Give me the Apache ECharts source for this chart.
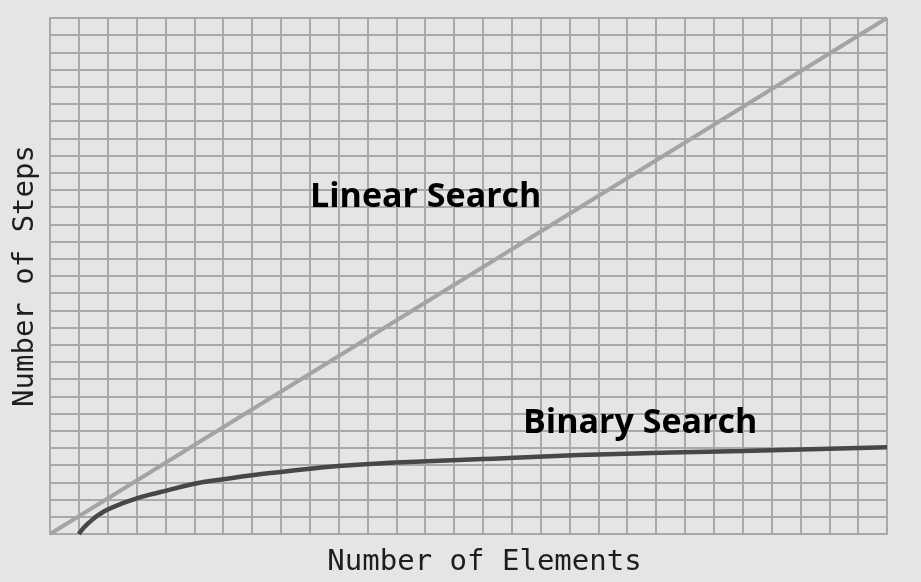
<!DOCTYPE html>
<html>
<head>
<meta charset="utf-8">
<script src="https://cdn.jsdelivr.net/npm/echarts@6/dist/echarts.min.js"></script>
<style>
html,body{margin:0;padding:0;background:#e5e5e5;}
#c{width:921px;height:582px;}
</style>
</head>
<body>
<div id="c"></div>
<script>
const xAxisTitle = 'Number of Elements';
const yAxisTitle = 'Number of Steps';
const seriesNames = ['Linear Search', 'Binary Search'];
const linearX = [0, 29];
const linearY = [0, 30];
const binaryX = [1, 1.12, 1.25, 1.5, 1.72, 2, 2.5, 3, 3.5, 4, 5, 6, 7, 8, 9, 10, 12, 15, 19, 24, 29];
const binaryY = [0, 0.27, 0.5, 0.88, 1.15, 1.42, 1.78, 2.07, 2.3, 2.51, 2.92, 3.18, 3.42, 3.61, 3.79, 3.96, 4.15, 4.36, 4.62, 4.83, 5.05];
const xRange = [0, 29];
const yRange = [0, 30];

const pair = (xs, ys) => xs.map((x, i) => [x, ys[i]]);
const gridLine = { show: true, lineStyle: { color: '#a9a9ab', width: 2 } };

const chart = echarts.init(document.getElementById('c'), null, { renderer: 'canvas' });
chart.setOption({
  backgroundColor: '#e5e5e5',
  animation: false,
  grid: { left: 50, top: 18, width: 837, height: 518, show: false },
  xAxis: {
    type: 'value', min: xRange[0], max: xRange[1], interval: 1,
    name: xAxisTitle, nameLocation: 'middle', nameGap: 14,
    nameTextStyle: { fontFamily: 'DejaVu Sans Mono', fontSize: 29, color: '#1e1e1e', padding: [0, 0, 0, 32] },
    axisLine: { show: true, lineStyle: { color: '#a9a9ab', width: 2 } },
    axisTick: { show: false }, axisLabel: { show: false },
    splitLine: gridLine
  },
  yAxis: {
    type: 'value', min: yRange[0], max: yRange[1], interval: 1,
    name: yAxisTitle, nameLocation: 'middle', nameGap: 10,
    nameTextStyle: { fontFamily: 'DejaVu Sans Mono', fontSize: 29, color: '#1e1e1e' },
    axisLine: { show: true, lineStyle: { color: '#a9a9ab', width: 2 } },
    axisTick: { show: false }, axisLabel: { show: false },
    splitLine: gridLine
  },
  series: [
    {
      name: seriesNames[0], type: 'line', data: pair(linearX, linearY),
      symbol: 'none', lineStyle: { color: '#a4a4a4', width: 4 }, z: 3
    },
    {
      name: seriesNames[1], type: 'line', data: pair(binaryX, binaryY),
      symbol: 'none', smooth: 0.5,
      lineStyle: { color: '#474747', width: 4.5, cap: 'butt' }, z: 4
    }
  ],
  graphic: [
    { type: 'text', left: 310, top: 180, z: 10,
      style: { text: seriesNames[0], font: 'bold 34px "Open Sans"', fill: '#000' } },
    { type: 'text', left: 523, top: 406, z: 10,
      style: { text: seriesNames[1], font: 'bold 34px "Open Sans"', fill: '#000' } }
  ]
});
</script>
</body>
</html>
